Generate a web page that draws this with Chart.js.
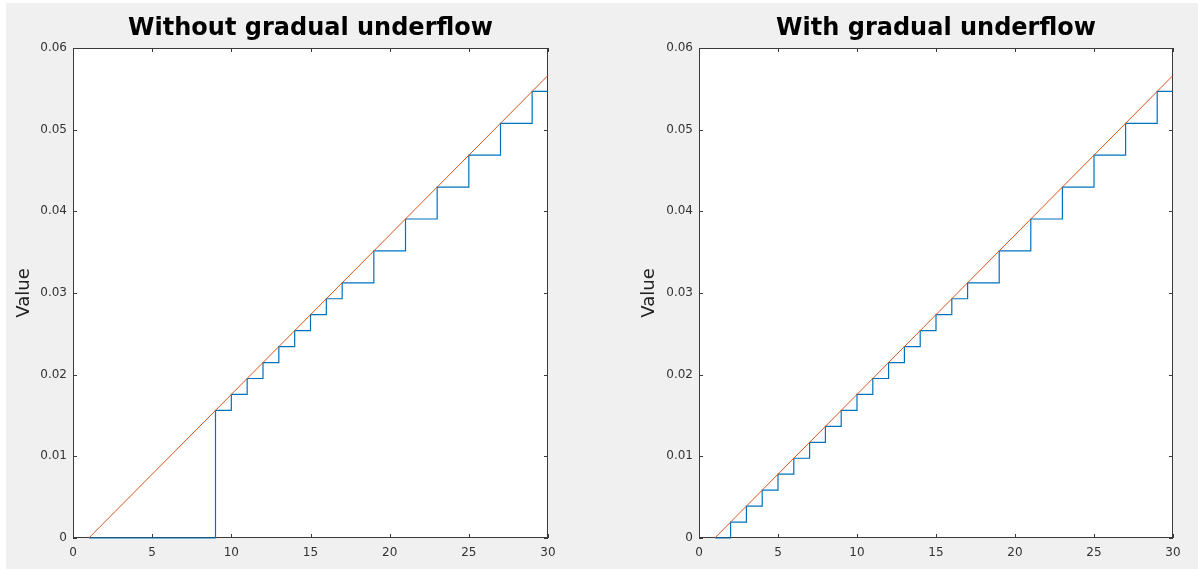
<!DOCTYPE html>
<html lang="en">
<head>
  <meta charset="UTF-8" />
  <title>Gradual underflow</title>
  <script src="https://cdn.jsdelivr.net/npm/chart.js"></script>
  <style>
    * { margin: 0; padding: 0; box-sizing: border-box; }
    body {
      width: 1198px; height: 571px;
      background: #fff;
      position: relative; overflow: hidden;
      font-family: 'DejaVu Sans', sans-serif;
    }
    .figure { position: absolute; left: 6px; top: 3px; width: 1192px; height: 566px; background: #f0f0f0; }
    .panel { position: absolute; top: 3px; height: 566px; }
    #leftPanel { left: 6px; width: 593px; }
    #rightPanel { left: 599px; width: 599px; }
  </style>
</head>
<body>
<div class="figure"></div>
<div class="panel" id="leftPanel"><canvas id="leftChart"></canvas></div>
<div class="panel" id="rightPanel"><canvas id="rightChart"></canvas></div>

<script>
// sample index
const xValues = [1, 2, 3, 4, 5, 6, 7, 8, 9, 10, 11, 12, 13, 14, 15,
                 16, 17, 18, 19, 20, 21, 22, 23, 24, 25, 26, 27, 28, 29, 30];

// stored value, flush-to-zero
const withoutUnderflow = [0, 0, 0, 0, 0, 0, 0, 0,
  0.015625, 0.017578125, 0.01953125, 0.021484375, 0.0234375, 0.025390625,
  0.02734375, 0.029296875, 0.03125, 0.03125, 0.03515625, 0.03515625,
  0.0390625, 0.0390625, 0.04296875, 0.04296875, 0.046875, 0.046875,
  0.05078125, 0.05078125, 0.0546875, 0.0546875];

// stored value, with subnormals
const withUnderflow = [0, 0.001953125, 0.00390625, 0.005859375, 0.0078125,
  0.009765625, 0.01171875, 0.013671875,
  0.015625, 0.017578125, 0.01953125, 0.021484375, 0.0234375, 0.025390625,
  0.02734375, 0.029296875, 0.03125, 0.03125, 0.03515625, 0.03515625,
  0.0390625, 0.0390625, 0.04296875, 0.04296875, 0.046875, 0.046875,
  0.05078125, 0.05078125, 0.0546875, 0.0546875];

// exact value (straight line)
const exactX = [1, 30];
const exactY = [0, 0.056640625];

const xTicks = [0, 5, 10, 15, 20, 25, 30];
const yTicks = [0, 0.01, 0.02, 0.03, 0.04, 0.05, 0.06];

const BLUE = '#0072BD';
const ORANGE = '#D95319';
const AXIS = '#3a3a3a';

// white axes background, matlab-ish box with inward ticks on all four sides
const boxPlugin = {
  id: 'matlabBox',
  beforeDatasetsDraw(chart) {
    const { ctx, chartArea: a, scales: { x, y } } = chart;
    const len = 4;
    ctx.save();
    ctx.fillStyle = '#fff';
    ctx.fillRect(a.left, a.top, a.width, a.height);
    ctx.strokeStyle = AXIS;
    ctx.lineWidth = 1;
    ctx.beginPath();
    x.ticks.forEach(t => {
      const px = Math.round(x.getPixelForValue(t.value)) + 0.5;
      ctx.moveTo(px, a.bottom); ctx.lineTo(px, a.bottom - len);
      ctx.moveTo(px, a.top); ctx.lineTo(px, a.top + len);
    });
    y.ticks.forEach(t => {
      const py = Math.round(y.getPixelForValue(t.value)) + 0.5;
      ctx.moveTo(a.left, py); ctx.lineTo(a.left + len, py);
      ctx.moveTo(a.right, py); ctx.lineTo(a.right - len, py);
    });
    ctx.stroke();
    ctx.strokeRect(Math.round(a.left) + 0.5, Math.round(a.top) + 0.5,
                   Math.round(a.width) - 1, Math.round(a.height) - 1);
    ctx.restore();
  }
};

function makeChart(id, title, stored, yAxisWidth, rightPad, labelPad) {
  new Chart(document.getElementById(id), {
    type: 'line',
    data: {
      datasets: [
        {
          data: exactX.map((x, i) => ({ x: x, y: exactY[i] })),
          borderColor: ORANGE, borderWidth: 1, pointRadius: 0, order: 0, clip: 3
        },
        {
          data: xValues.map((x, i) => ({ x: x, y: stored[i] })),
          borderColor: BLUE, borderWidth: 1.2, pointRadius: 0,
          stepped: 'before', order: 1, clip: 3
        }
      ]
    },
    options: {
      responsive: true,
      maintainAspectRatio: false,
      animation: false,
      layout: { padding: { left: 0, right: rightPad, top: 0, bottom: 0 } },
      plugins: {
        legend: { display: false },
        tooltip: { enabled: false },
        title: {
          display: true, text: title, fullSize: false,
          color: '#000',
          font: { family: 'DejaVu Sans', size: 24, weight: 'bold', lineHeight: 1.2 },
          padding: { top: 11, bottom: 5.2 }
        }
      },
      scales: {
        x: {
          type: 'linear', min: 0, max: 30,
          afterBuildTicks: s => { s.ticks = xTicks.map(v => ({ value: v })); },
          afterFit: s => { s.height = 31; },
          grid: { display: false, drawTicks: false },
          border: { display: false },
          ticks: { color: '#333', padding: 8, maxRotation: 0,
                   font: { family: 'DejaVu Sans', size: 12 } }
        },
        y: {
          type: 'linear', min: 0, max: 0.06,
          afterBuildTicks: s => { s.ticks = yTicks.map(v => ({ value: v })); },
          afterFit: s => { s.width = yAxisWidth; },
          grid: { display: false, drawTicks: false },
          border: { display: false },
          ticks: {
            color: '#333', padding: 6,
            font: { family: 'DejaVu Sans', size: 12 },
            callback: v => (v === 0 ? '0' : v.toFixed(2))
          },
          title: {
            display: true, text: 'Value', color: '#222',
            font: { family: 'DejaVu Sans', size: 18, lineHeight: 1.2 },
            padding: { top: labelPad, bottom: 0 }
          }
        }
      }
    },
    plugins: [boxPlugin]
  });
}

makeChart('leftChart', 'Without gradual underflow', withoutUnderflow, 67, 51, 8);
makeChart('rightChart', 'With gradual underflow', withUnderflow, 100, 25, 40);
</script>
</body>
</html>
